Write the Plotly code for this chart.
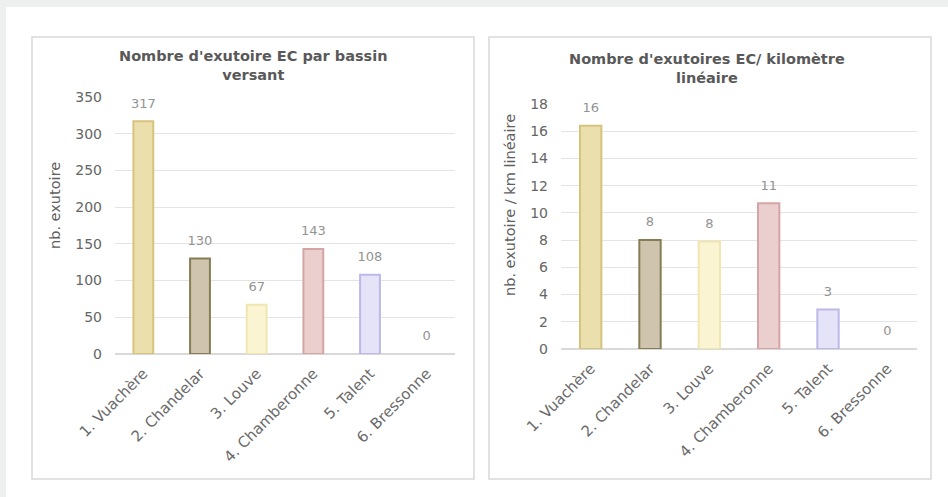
import plotly.graph_objects as go

categories = ["1. Vuachère", "2. Chandelar", "3. Louve", "4. Chamberonne", "5. Talent", "6. Bressonne"]
exutoires = [317, 130, 67, 143, 108, 0]
exutoires_km = [16.4, 8.0, 7.9, 10.7, 2.9, 0]

title_left = "Nombre d'exutoire EC par bassin<br>versant"
title_right = "Nombre d'exutoires EC/ kilomètre<br>linéaire"
ytitle_left = "nb. exutoire"
ytitle_right = "nb. exutoire / km linéaire"

fills = ["#ecdfae", "#cfc5ae", "#fbf4d2", "#ebcfcf", "#e5e3f7", "#e5e3f7"]
lines = ["#d6c47c", "#867d55", "#efe6b0", "#d5a5a5", "#bcb8e8", "#bcb8e8"]
line_w = [2, 2, 2, 2, 2, 0]

FONT = "DejaVu Sans"
W, H = 948, 497
def px(x): return x / W
def py(y): return 1 - y / H

fig = go.Figure()
fig.add_trace(go.Bar(x=categories, y=exutoires, xaxis="x", yaxis="y",
                     marker=dict(color=fills, line=dict(color=lines, width=line_w)),
                     width=0.35, hoverinfo="skip"))
fig.add_trace(go.Scatter(x=categories, y=exutoires, xaxis="x", yaxis="y",
                         mode="markers+text", text=[f"{v:.0f}" for v in exutoires],
                         textposition="top center", cliponaxis=False,
                         marker=dict(size=15, color="rgba(0,0,0,0)"),
                         textfont=dict(size=13, color="#939393", family=FONT)))
fig.add_trace(go.Bar(x=categories, y=exutoires_km, xaxis="x2", yaxis="y2",
                     marker=dict(color=fills, line=dict(color=lines, width=line_w)),
                     width=0.36, hoverinfo="skip"))
fig.add_trace(go.Scatter(x=categories, y=exutoires_km, xaxis="x2", yaxis="y2",
                         mode="markers+text", text=[f"{v:.0f}" for v in exutoires_km],
                         textposition="top center", cliponaxis=False,
                         marker=dict(size=15, color="rgba(0,0,0,0)"),
                         textfont=dict(size=13, color="#939393", family=FONT)))

xfont = dict(size=15, color="#6a6a6a", family=FONT)
yfont = dict(size=14, color="#656565", family=FONT)
fig.update_layout(
    width=W, height=H,
    margin=dict(l=0, r=0, t=0, b=0, pad=0, autoexpand=False),
    paper_bgcolor="#eef0ef", plot_bgcolor="rgba(0,0,0,0)",
    showlegend=False,
    font=dict(family=FONT, color="#606060"),
    xaxis=dict(domain=[px(115), px(455)], anchor="y", tickangle=-45, tickfont=xfont,
               showgrid=False, showline=False, ticks="", automargin=False, ticklabelstandoff=7),
    yaxis=dict(domain=[py(354), py(97)], anchor="x", range=[0, 350], dtick=50,
               tickfont=yfont, gridcolor="#e4e4e4", zerolinecolor="#d9d9d9",
               ticks="", showline=False, automargin=False, ticklabelstandoff=12),
    xaxis2=dict(domain=[px(561), px(917)], anchor="y2", tickangle=-45, tickfont=xfont,
                showgrid=False, showline=False, ticks="", automargin=False, ticklabelstandoff=7),
    yaxis2=dict(domain=[py(349), py(104)], anchor="x2", range=[0, 18], dtick=2,
                tickfont=yfont, gridcolor="#e4e4e4", zerolinecolor="#d9d9d9",
                ticks="", showline=False, automargin=False, ticklabelstandoff=12),
    shapes=[
        dict(type="rect", xref="paper", yref="paper", x0=px(6), x1=1.0, y0=0, y1=py(7),
             fillcolor="white", line=dict(width=0), layer="below"),
        dict(type="rect", xref="paper", yref="paper", x0=px(32), x1=px(474), y0=py(479), y1=py(37),
             fillcolor="white", line=dict(color="#d9d9d9", width=1.5), layer="below"),
        dict(type="rect", xref="paper", yref="paper", x0=px(489), x1=px(931), y0=py(479), y1=py(37),
             fillcolor="white", line=dict(color="#d9d9d9", width=1.5), layer="below"),
    ],
    annotations=[
        dict(text="<b>" + title_left + "</b>", xref="paper", yref="paper", x=px(253), y=py(66),
             showarrow=False, xanchor="center", yanchor="middle",
             font=dict(size=14.5, color="#595959", family=FONT)),
        dict(text="<b>" + title_right + "</b>", xref="paper", yref="paper", x=px(707), y=py(68),
             showarrow=False, xanchor="center", yanchor="middle",
             font=dict(size=14.5, color="#595959", family=FONT)),
        dict(text=ytitle_left, xref="paper", yref="paper", x=px(55), y=py(206), textangle=-90,
             showarrow=False, xanchor="center", yanchor="middle",
             font=dict(size=14.5, color="#606060", family=FONT)),
        dict(text=ytitle_right, xref="paper", yref="paper", x=px(510), y=py(205), textangle=-90,
             showarrow=False, xanchor="center", yanchor="middle",
             font=dict(size=14.5, color="#606060", family=FONT)),
    ],
)

fig.write_html("out.html", config={"displayModeBar": False},
               post_script="document.body.style.margin='0';document.body.style.background='#eef0ef';")
